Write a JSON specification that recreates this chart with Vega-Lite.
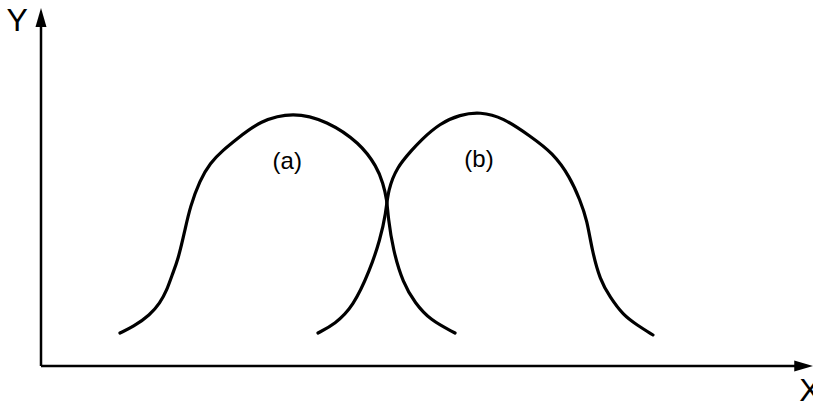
{
  "$schema": "https://vega.github.io/schema/vega-lite/v6.json",
  "width": 772,
  "height": 356,
  "autosize": {"type": "none"},
  "padding": {"left": 41, "top": 10, "right": 0, "bottom": 41},
  "background": "white",
  "config": {"view": {"stroke": null}},
  "datasets": {
    "curves": [
      {"curve": "a", "x": 10.23, "y": 9.27},
      {"curve": "a", "x": 11.92, "y": 10.96},
      {"curve": "a", "x": 14.12, "y": 14.33},
      {"curve": "a", "x": 15.41, "y": 17.7},
      {"curve": "a", "x": 16.32, "y": 21.35},
      {"curve": "a", "x": 16.97, "y": 25.56},
      {"curve": "a", "x": 17.75, "y": 29.78},
      {"curve": "a", "x": 18.65, "y": 38.2},
      {"curve": "a", "x": 19.3, "y": 44.66},
      {"curve": "a", "x": 20.6, "y": 52.25},
      {"curve": "a", "x": 21.89, "y": 57.02},
      {"curve": "a", "x": 23.58, "y": 60.67},
      {"curve": "a", "x": 25.39, "y": 63.8},
      {"curve": "a", "x": 28.37, "y": 68.9},
      {"curve": "a", "x": 32.64, "y": 71.4},
      {"curve": "a", "x": 37.05, "y": 68.9},
      {"curve": "a", "x": 41.32, "y": 62.64},
      {"curve": "a", "x": 43.52, "y": 55.9},
      {"curve": "a", "x": 44.3, "y": 51.4},
      {"curve": "a", "x": 44.82, "y": 46.63},
      {"curve": "a", "x": 44.95, "y": 41.85},
      {"curve": "a", "x": 45.6, "y": 32.58},
      {"curve": "a", "x": 46.89, "y": 23.31},
      {"curve": "a", "x": 48.45, "y": 17.7},
      {"curve": "a", "x": 50.39, "y": 12.92},
      {"curve": "a", "x": 53.63, "y": 9.27},
      {"curve": "b", "x": 35.88, "y": 9.27},
      {"curve": "b", "x": 38.08, "y": 11.8},
      {"curve": "b", "x": 40.41, "y": 16.57},
      {"curve": "b", "x": 42.62, "y": 26.97},
      {"curve": "b", "x": 43.91, "y": 35.39},
      {"curve": "b", "x": 44.69, "y": 42.98},
      {"curve": "b", "x": 44.95, "y": 49.44},
      {"curve": "b", "x": 46.11, "y": 55.9},
      {"curve": "b", "x": 48.06, "y": 60.67},
      {"curve": "b", "x": 49.09, "y": 63.2},
      {"curve": "b", "x": 51.68, "y": 68.2},
      {"curve": "b", "x": 54.27, "y": 70.6},
      {"curve": "b", "x": 56.87, "y": 71.4},
      {"curve": "b", "x": 59.84, "y": 69.8},
      {"curve": "b", "x": 63.34, "y": 64.6},
      {"curve": "b", "x": 66.32, "y": 59.83},
      {"curve": "b", "x": 68.52, "y": 53.09},
      {"curve": "b", "x": 69.82, "y": 46.63},
      {"curve": "b", "x": 70.73, "y": 41.01},
      {"curve": "b", "x": 71.37, "y": 32.58},
      {"curve": "b", "x": 72.41, "y": 24.16},
      {"curve": "b", "x": 73.7, "y": 19.38},
      {"curve": "b", "x": 75.39, "y": 14.33},
      {"curve": "b", "x": 77.2, "y": 11.52},
      {"curve": "b", "x": 79.27, "y": 8.71}
    ],
    "axes": [
      {"axis": "X", "x": 0, "y": 0, "x2": 98.8, "y2": 0},
      {"axis": "Y", "x": 0, "y": 0, "x2": 0, "y2": 97.9}
    ],
    "heads": [
      {"axis": "X", "x": 98.8, "y": 0, "dir": "right"},
      {"axis": "Y", "x": 0, "y": 97.9, "dir": "up"}
    ],
    "axisNames": [
      {"label": "Y", "x": -3.1, "y": 96.9},
      {"label": "X", "x": 99.6, "y": -7.0}
    ],
    "curveNames": [
      {"label": "(a)", "x": 31.9, "y": 57.3},
      {"label": "(b)", "x": 56.74, "y": 57.9}
    ]
  },
  "layer": [
    {
      "data": {"name": "axes"},
      "mark": {"type": "rule", "color": "black", "strokeWidth": 2.5},
      "encoding": {
        "x": {"field": "x", "type": "quantitative", "scale": {"domain": [0, 100], "nice": false, "zero": false}, "axis": null},
        "y": {"field": "y", "type": "quantitative", "scale": {"domain": [0, 100], "nice": false, "zero": false}, "axis": null},
        "x2": {"field": "x2"},
        "y2": {"field": "y2"}
      }
    },
    {
      "data": {"name": "heads"},
      "transform": [{"filter": "datum.dir === 'right'"}],
      "mark": {"type": "point", "filled": true, "color": "black", "opacity": 1, "size": 361, "shape": "M1,0 L-1,-0.58 L-1,0.58 Z"},
      "encoding": {
        "x": {"field": "x", "type": "quantitative"},
        "y": {"field": "y", "type": "quantitative"}
      }
    },
    {
      "data": {"name": "heads"},
      "transform": [{"filter": "datum.dir === 'up'"}],
      "mark": {"type": "point", "filled": true, "color": "black", "opacity": 1, "size": 361, "shape": "M0,-1 L-0.58,1 L0.58,1 Z"},
      "encoding": {
        "x": {"field": "x", "type": "quantitative"},
        "y": {"field": "y", "type": "quantitative"}
      }
    },
    {
      "data": {"name": "curves"},
      "mark": {"type": "line", "color": "black", "strokeWidth": 3.2, "interpolate": "basis", "strokeCap": "round"},
      "encoding": {
        "x": {"field": "x", "type": "quantitative"},
        "y": {"field": "y", "type": "quantitative"},
        "detail": {"field": "curve"}
      }
    },
    {
      "data": {"name": "axisNames"},
      "mark": {"type": "text", "font": "Liberation Sans", "fontSize": 32, "align": "center", "baseline": "middle", "color": "black"},
      "encoding": {
        "x": {"field": "x", "type": "quantitative"},
        "y": {"field": "y", "type": "quantitative"},
        "text": {"field": "label"}
      }
    },
    {
      "data": {"name": "curveNames"},
      "mark": {"type": "text", "font": "Liberation Sans", "fontSize": 24, "align": "center", "baseline": "middle", "color": "black"},
      "encoding": {
        "x": {"field": "x", "type": "quantitative"},
        "y": {"field": "y", "type": "quantitative"},
        "text": {"field": "label"}
      }
    }
  ]
}
